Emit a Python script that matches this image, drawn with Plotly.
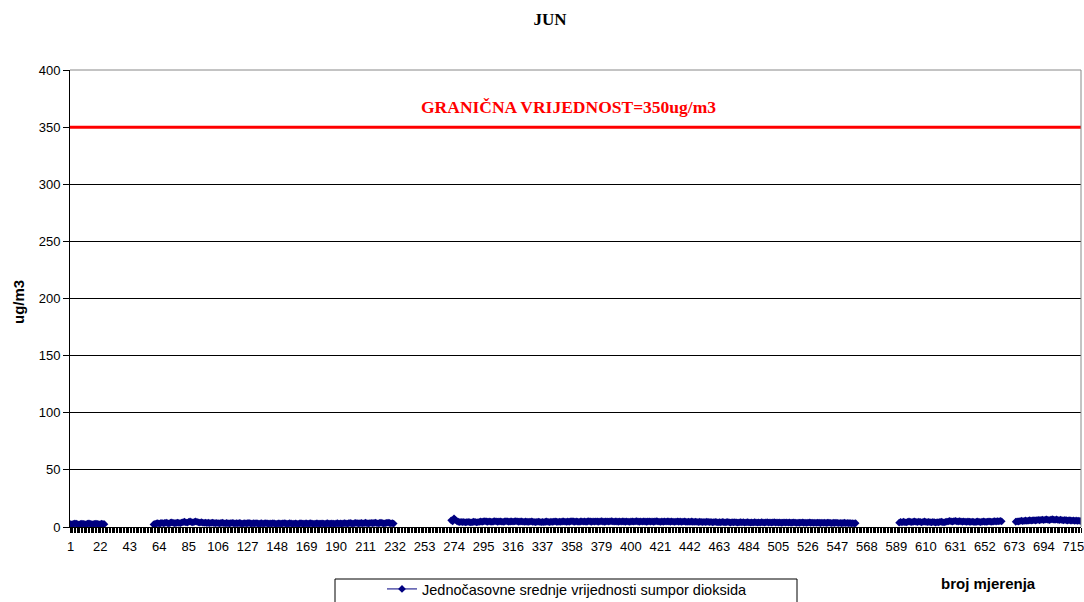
import plotly.graph_objects as go

# ---------------- data ----------------
hours = list(range(1, 721))
tick_labels = list(range(1, 721, 21))
limit_value = 350
limit_text = "GRANIČNA VRIJEDNOST=350ug/m3"
series_name = "Jednočasovne srednje vrijednosti sumpor dioksida"

seg_a = [2.6, 2.4, 2.8, 3.1, 2.9, 2.5, 2.3, 2.7, 3.0, 2.8,
         2.6, 2.5, 2.9, 3.2, 2.7, 2.4, 2.6, 2.8, 3.0, 2.7,
         2.5, 2.6, 2.9, 2.7, 2.5]
gap_1 = [None] * 34
seg_b = [2.2, 2.8, 3.1, 3.4, 3.0, 3.3, 3.6, 3.2, 3.5, 3.8,
         3.4, 3.1, 3.7, 4.0, 3.6, 3.3, 3.5, 3.9, 3.6, 3.4,
         3.8, 4.2, 4.6, 4.1, 3.9, 4.4, 4.8, 4.3, 4.0, 4.5,
         4.9, 4.4, 4.1, 3.8, 4.2, 3.9, 3.6, 3.8, 3.5, 3.7,
         3.4, 3.6, 3.9, 3.5, 3.3, 3.6, 3.4, 3.2, 3.5, 3.7,
         3.4, 3.2, 3.5, 3.3, 3.1, 3.4, 3.6, 3.3, 3.1, 3.4,
         3.2, 3.5, 3.3, 3.0, 3.2, 3.4, 3.1, 3.3, 3.5, 3.2,
         3.0, 3.3, 3.1, 3.4, 3.2, 2.9, 3.1, 3.3, 3.0, 3.2,
         3.4, 3.1, 2.9, 3.2, 3.0, 3.3, 3.1, 2.8, 3.0, 3.2,
         3.1, 2.9, 3.2, 3.4, 3.1, 2.9, 3.0, 3.3, 3.1, 2.8,
         3.0, 3.2, 3.0, 2.8, 3.1, 3.3, 3.0, 2.9, 3.1, 3.2,
         2.9, 3.1, 3.3, 3.0, 2.8, 3.0, 3.2, 3.1, 2.9, 3.0,
         3.2, 3.0, 2.8, 3.1, 3.3, 3.0, 2.9, 3.1, 3.0, 2.8,
         3.1, 3.3, 3.0, 3.2, 2.9, 3.1, 3.4, 3.2, 3.0, 3.3,
         3.5, 3.2, 3.0, 3.3, 3.6, 3.4, 3.1, 3.3, 3.5, 3.2,
         3.4, 3.7, 3.3, 3.1, 3.4, 3.6, 3.3, 3.5, 3.8, 3.4,
         3.2, 3.5, 3.7, 3.4, 3.1, 3.3, 3.6, 3.8, 3.5, 3.2,
         3.4, 3.0]
gap_2 = [None] * 40
seg_c = [5.8, 4.9, 7.6, 6.2, 5.1, 4.6, 4.3, 4.5, 4.2, 4.4,
         4.1, 4.3, 4.5, 4.2, 4.0, 4.3, 4.6, 4.4, 4.1, 4.3,
         4.5, 4.8, 4.6, 4.9, 5.2, 4.8, 4.6, 5.0, 4.7, 4.5,
         4.8, 5.1, 4.9, 4.6, 4.8, 5.0, 4.7, 4.5, 4.8, 5.1,
         4.9, 4.6, 4.8, 5.0, 4.7, 4.9, 5.2, 4.9, 4.6, 4.8,
         5.0, 4.7, 4.5, 4.8, 4.6, 4.4, 4.7, 4.9, 4.6, 4.4,
         4.2, 4.5, 4.7, 4.4, 4.2, 4.5, 4.3, 4.6, 4.8, 4.5,
         4.3, 4.6, 4.4, 4.7, 4.9, 4.6, 4.4, 4.7, 4.5, 4.8,
         5.0, 4.7, 4.5, 4.8, 4.6, 4.9, 5.1, 4.8, 4.6, 4.9,
         4.7, 4.5, 4.8, 5.0, 4.7, 4.9, 4.6, 4.8, 5.1, 4.8,
         4.6, 4.9, 4.7, 5.0, 4.8, 4.6, 4.9, 5.1, 4.8, 4.6,
         4.8, 5.0, 4.7, 4.9, 5.2, 4.9, 4.7, 5.0, 4.8, 4.6,
         4.9, 4.7, 5.0, 4.8, 4.6, 4.9, 4.7, 4.5, 4.8, 5.0,
         4.7, 4.9, 5.1, 4.8, 4.6, 4.9, 4.7, 5.0, 4.8, 4.6,
         4.8, 5.0, 4.7, 4.9, 4.6, 4.8, 5.1, 4.9, 4.7, 4.5,
         4.8, 4.6, 4.9, 4.7, 5.0, 4.8, 4.6, 4.9, 4.7, 4.5,
         4.7, 4.9, 4.6, 4.8, 4.5, 4.7, 4.9, 4.6, 4.4, 4.7,
         4.5, 4.8, 4.6, 4.4, 4.7, 4.5, 4.3, 4.6, 4.4, 4.2,
         4.5, 4.3, 4.6, 4.4, 4.2, 4.4, 4.1, 4.3, 4.5, 4.2,
         4.0, 4.3, 4.1, 4.4, 4.2, 4.0, 4.2, 4.4, 4.1, 3.9,
         4.2, 4.0, 4.3, 4.1, 3.9, 4.1, 4.3, 4.0, 4.2, 3.9,
         4.1, 4.3, 4.0, 3.8, 4.1, 3.9, 4.2, 4.0, 3.8, 4.1,
         3.9, 4.2, 4.0, 3.8, 4.0, 4.2, 3.9, 4.1, 3.8, 4.0,
         4.2, 3.9, 4.1, 3.8, 4.0, 3.7, 3.9, 4.1, 3.8, 4.0,
         3.8, 4.0, 3.7, 3.9, 4.1, 3.8, 3.6, 3.9, 3.7, 3.9,
         4.0, 3.7, 3.9, 3.6, 3.8, 4.0, 3.7, 3.9, 3.6, 3.8,
         3.6, 3.9, 3.7, 3.5, 3.8, 3.6, 3.8, 3.5, 3.7, 3.9,
         3.6, 3.4, 3.7, 3.5, 3.8, 3.6, 3.4, 3.6, 3.3, 3.5,
         3.7, 3.4, 3.6, 3.3, 3.5, 3.2, 3.4, 3.1, 3.3]
gap_3 = [None] * 30
seg_d = [3.8, 4.4, 4.1, 4.6, 4.3, 4.0, 4.5, 4.8, 4.4, 4.2,
         4.6, 4.9, 4.5, 4.3, 4.7, 4.4, 4.1, 4.5, 4.8, 4.4,
         4.2, 4.5, 4.3, 4.0, 4.4, 4.2, 3.9, 4.3, 4.1, 4.4,
         4.6, 4.3, 4.1, 4.4, 4.7, 4.9, 5.3, 5.0, 4.7, 5.1,
         5.4, 5.0, 4.8, 5.2, 4.9, 4.6, 4.9, 4.7, 4.5, 4.8,
         4.6, 4.4, 4.7, 4.5, 4.3, 4.6, 4.8, 4.5, 4.3, 4.6,
         4.9, 4.6, 4.4, 4.7, 5.0, 4.7, 4.5, 4.8, 5.1, 4.8,
         5.2, 4.9, 5.4, 5.0]
gap_4 = [None] * 9
seg_e = [4.6, 5.0, 4.8, 5.2, 5.5, 5.1, 5.4, 5.7, 5.3, 5.6,
         5.9, 5.5, 5.8, 6.1, 5.7, 6.0, 6.3, 5.9, 6.2, 6.5,
         6.1, 6.4, 6.7, 6.3, 6.0, 6.4, 6.8, 6.5, 6.2, 6.6,
         6.3, 6.0, 6.4, 6.1, 5.8, 6.2, 5.9, 5.6, 6.0, 5.7,
         5.5, 5.8, 5.4, 5.7, 5.3, 5.6, 5.2]

so2 = seg_a + gap_1 + seg_b + gap_2 + seg_c + gap_3 + seg_d + gap_4 + seg_e
assert len(so2) == len(hours), len(so2)

# ---------------- figure ----------------
NAVY = "#000080"
SANS = "Liberation Sans, Arial"
SERIF = "Liberation Serif, Times New Roman"
L, R, T, B = 70, 3, 70, 75
PW, PH = 1084 - L - R, 602 - T - B


def px(xp):
    return (xp - L) / PW


def py(yp):
    return (602 - B - yp) / PH


fig = go.Figure()
fig.add_trace(go.Scatter(
    x=hours, y=so2, mode="lines+markers", name=series_name,
    line=dict(color=NAVY, width=1),
    marker=dict(symbol="diamond", size=6, color=NAVY, line=dict(width=0)),
    connectgaps=False,
))

fig.add_hline(y=limit_value, line=dict(color="#ff0000", width=3), layer="above")

fig.update_layout(
    width=1084, height=602,
    margin=dict(l=L, r=R, t=T, b=B, autoexpand=False),
    paper_bgcolor="white", plot_bgcolor="white",
    showlegend=True,
    legend=dict(x=px(567), xanchor="center", y=py(589), yanchor="middle",
                bgcolor="rgba(0,0,0,0)", font=dict(family=SANS, size=14.5, color="black"),
                itemwidth=30),
    title=dict(text="<b>JUN</b>", x=550 / 1084, xanchor="center", y=1 - 19 / 602, yanchor="middle",
               font=dict(family=SERIF, size=17, color="black")),
    font=dict(family=SANS, size=13, color="black"),
)

fig.update_xaxes(
    range=[0.5, 720.5], tickmode="array", tickvals=tick_labels,
    ticktext=[str(t) for t in tick_labels], ticks="", showgrid=False,
    showline=True, linecolor="black", linewidth=1, zeroline=False,
    tickfont=dict(family=SANS, size=13, color="black"), automargin=False,
    ticklabeloverflow="allow", ticklabelstandoff=7,
    minor=dict(ticks="outside", ticklen=5, tickcolor="black", tickwidth=1,
               tickmode="linear", tick0=0.5, dtick=1, showgrid=False),
)
fig.update_yaxes(
    range=[0, 400], tickmode="linear", tick0=0, dtick=50,
    ticks="outside", ticklen=6, tickcolor="black",
    showgrid=True, gridcolor="black", gridwidth=1,
    showline=True, linecolor="black", linewidth=1, zeroline=False,
    tickfont=dict(family=SANS, size=13, color="black"), automargin=False,
)

# top & right frame (grey)
fig.add_shape(type="line", xref="paper", yref="paper", x0=0, x1=1, y0=1, y1=1,
              line=dict(color="#888888", width=1))
fig.add_shape(type="line", xref="paper", yref="paper", x0=1, x1=1, y0=0, y1=1,
              line=dict(color="#888888", width=1))

# legend box
fig.add_shape(type="rect", xref="paper", yref="paper",
              x0=px(335), x1=px(797), y0=py(579), y1=py(640),
              line=dict(color="black", width=1))

fig.add_annotation(text="<b>" + limit_text + "</b>", xref="paper", yref="paper",
                   x=px(568), y=py(107), xanchor="center", yanchor="middle", showarrow=False,
                   font=dict(family=SERIF, size=17.5, color="#ff0000"))
fig.add_annotation(text="<b>ug/m3</b>", xref="paper", yref="paper",
                   x=px(18), y=py(302), xanchor="center", yanchor="middle",
                   textangle=-90, showarrow=False,
                   font=dict(family=SANS, size=15, color="black"))
fig.add_annotation(text="<b>broj mjerenja</b>", xref="paper", yref="paper",
                   x=px(988), y=py(583), xanchor="center", yanchor="middle", showarrow=False,
                   font=dict(family=SANS, size=15, color="black"))

fig.write_html("out.html", config={"displayModeBar": False},
               post_script="document.body.style.margin='0';document.body.style.overflow='hidden';")
